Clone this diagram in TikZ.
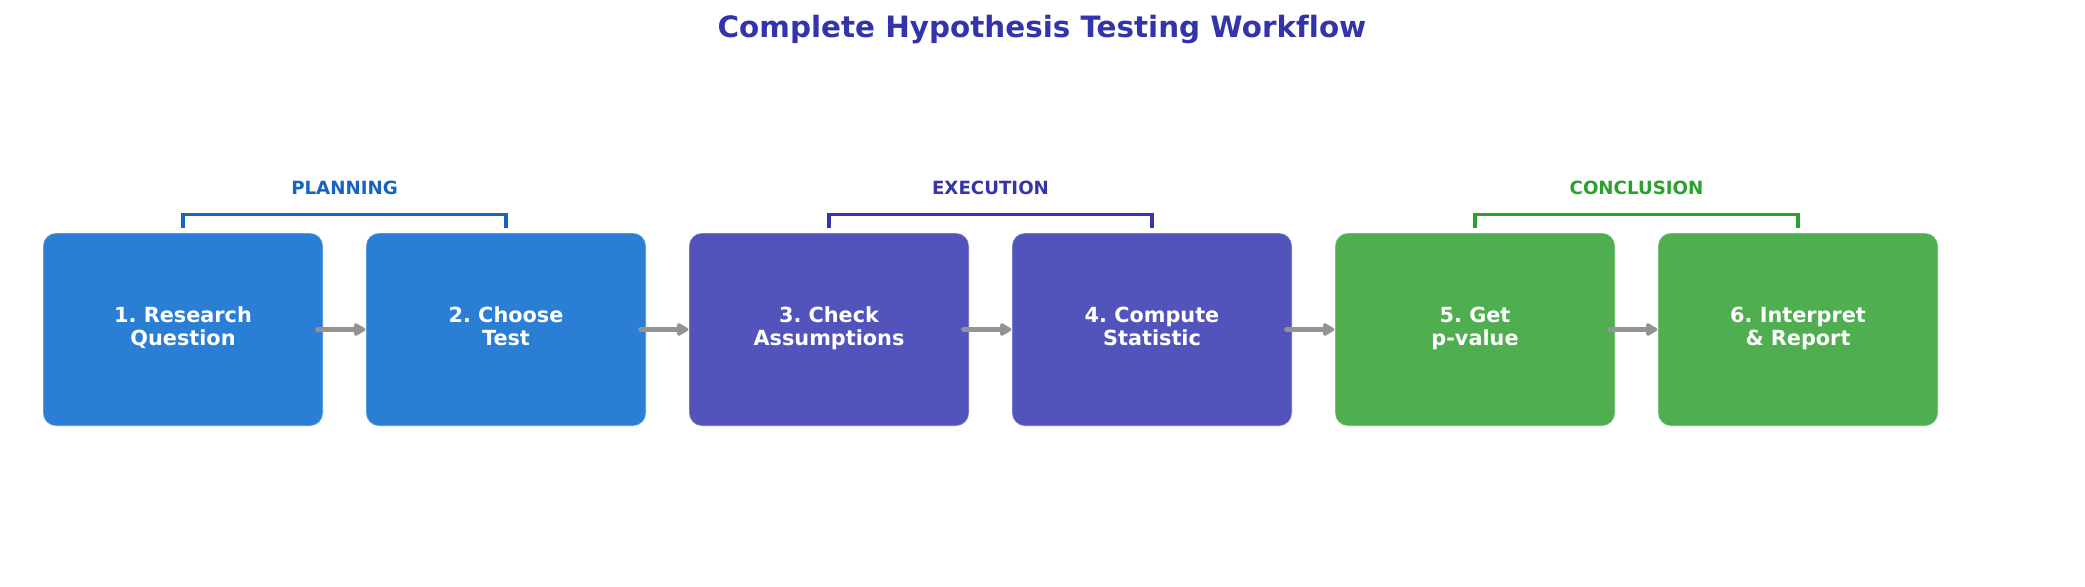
\documentclass[tikz,border=0pt]{standalone}
\usepackage{fontspec}
\setmainfont[Ligatures=NoCommon]{DejaVu Sans}
\usetikzlibrary{arrows.meta,calc}
\definecolor{cblue}{HTML}{2A7FD4}
\definecolor{cpurple}{HTML}{5254BC}
\definecolor{cgreen}{HTML}{4FAE4F}
\definecolor{lblue}{HTML}{1565C0}
\definecolor{lpurple}{HTML}{3535A8}
\definecolor{lgreen}{HTML}{2CA02C}
\definecolor{ctitle}{HTML}{3333AA}
\definecolor{carrow}{HTML}{939393}
\frenchspacing
\begin{document}
\begin{tikzpicture}[x=0.5pt,y=-0.5pt,
  stepbox/.style={rectangle, rounded corners=6.5pt, minimum width=140pt, minimum height=96.5pt,
    inner sep=0pt, text=white, font=\fontsize{10.4}{11.6}\selectfont\bfseries, align=center,
    draw=white, draw opacity=0.35, line width=0.6pt,
    execute at begin node={\rule{0pt}{10.1pt}}, execute at end node={\rule[-3.5pt]{0pt}{3.5pt}}},
  flowarrow/.style={draw=carrow, line width=2.5pt, line cap=round, shorten <=-3pt,
    -{Triangle[length=6.5pt,width=7pt,round]}},
  bracket/.style={line width=1.75pt},
  grplabel/.style={font=\fontsize{9.1}{10}\selectfont\bfseries, anchor=base, inner sep=0pt},
]
\useasboundingbox (0,0) rectangle (2085,586);
\node[font=\fontsize{14.7}{18}\selectfont\bfseries, text=ctitle, anchor=base, inner sep=0pt] (title) at (1042,37) {Complete Hypothesis Testing Workflow};

\node[stepbox, fill=cblue]   (b1) at (183,329.5)  {1. Research\\Question};
\node[stepbox, fill=cblue]   (b2) at (506,329.5)  {2. Choose\\Test};
\node[stepbox, fill=cpurple] (b3) at (829,329.5)  {3. Check\\Assumptions};
\node[stepbox, fill=cpurple] (b4) at (1152,329.5) {4. Compute\\Statistic};
\node[stepbox, fill=cgreen]  (b5) at (1475,329.5) {5. Get\\p-value};
\node[stepbox, fill=cgreen]  (b6) at (1798,329.5) {6. Interpret\\\& Report};

\draw[flowarrow] (b1) -- (b2);
\draw[flowarrow] (b2) -- (b3);
\draw[flowarrow] (b3) -- (b4);
\draw[flowarrow] (b4) -- (b5);
\draw[flowarrow] (b5) -- (b6);

\draw[bracket, draw=lblue]   ([yshift=2pt]b1.north) |- ([yshift=9pt]b2.north) -- ([yshift=2pt]b2.north);
\draw[bracket, draw=lpurple] ([yshift=2pt]b3.north) |- ([yshift=9pt]b4.north) -- ([yshift=2pt]b4.north);
\draw[bracket, draw=lgreen]  ([yshift=2pt]b5.north) |- ([yshift=9pt]b6.north) -- ([yshift=2pt]b6.north);

\node[grplabel, text=lblue]   (g1) at ($(b1.north)!0.5!(b2.north)+(0,-38)$) {PLANNING};
\node[grplabel, text=lpurple] (g2) at ($(b3.north)!0.5!(b4.north)+(0,-38)$) {EXECUTION};
\node[grplabel, text=lgreen]  (g3) at ($(b5.north)!0.5!(b6.north)+(0,-38)$) {CONCLUSION};
\end{tikzpicture}
\end{document}
